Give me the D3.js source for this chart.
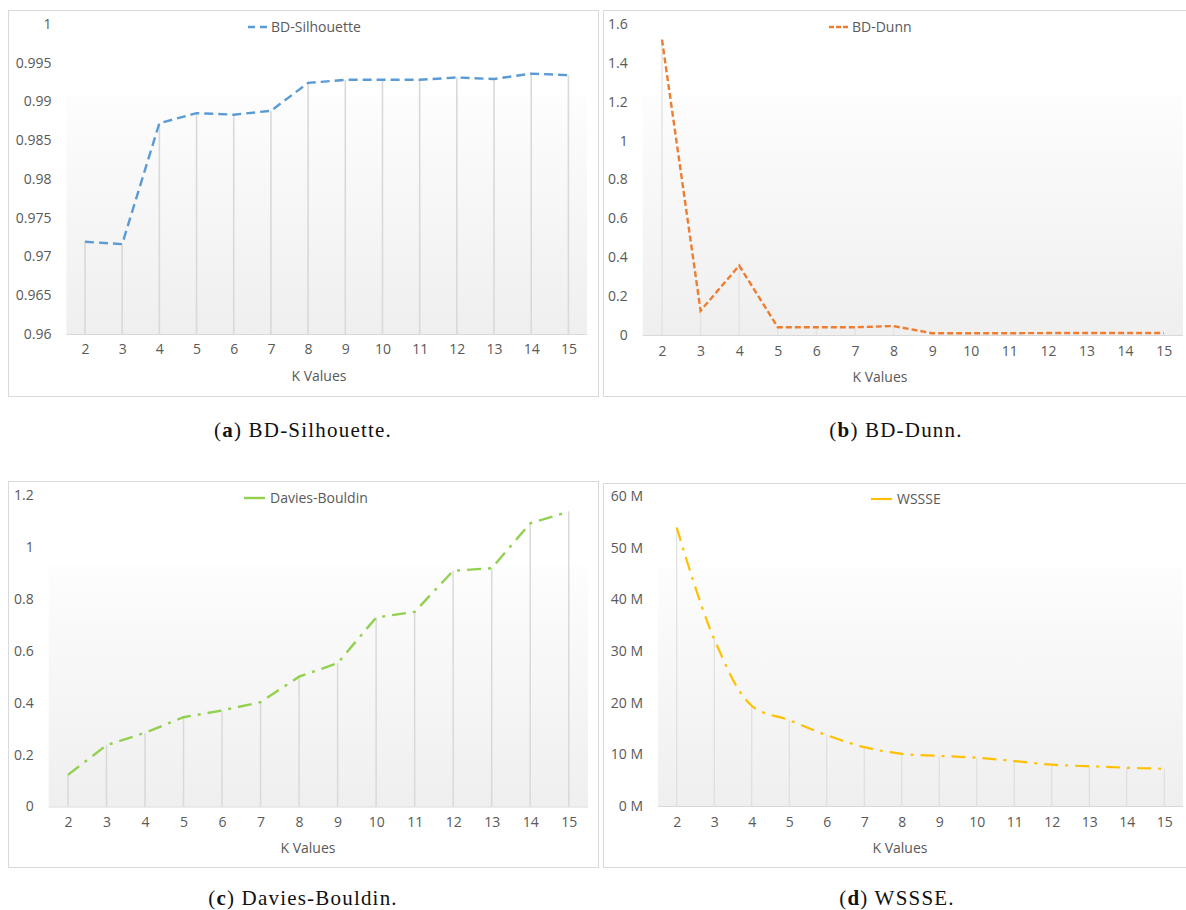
<!DOCTYPE html>
<html>
<head>
<meta charset="utf-8">
<script src="https://cdn.jsdelivr.net/npm/d3@7"></script>
<style>
  html, body { margin: 0; padding: 0; background: #fff; }
  svg { display: block; }
</style>
</head>
<body>
<svg id="chart" width="1186" height="910"></svg>
<script>
// ---- data ----
const kValues = [2, 3, 4, 5, 6, 7, 8, 9, 10, 11, 12, 13, 14, 15];

const silhouette = [0.9719, 0.9716, 0.9872, 0.9885, 0.9883, 0.9888, 0.9924, 0.9928, 0.9928, 0.9928, 0.9931, 0.9929, 0.9936, 0.9934];
const dunn = [1.52, 0.125, 0.357, 0.04, 0.04, 0.04, 0.046, 0.009, 0.009, 0.009, 0.01, 0.01, 0.01, 0.01];
const daviesBouldin = [0.122, 0.236, 0.284, 0.344, 0.370, 0.402, 0.500, 0.552, 0.728, 0.750, 0.908, 0.918, 1.091, 1.136];
const wssse = [53.9e6, 32.3e6, 19.4e6, 16.6e6, 13.7e6, 11.4e6, 10.1e6, 9.7e6, 9.35e6, 8.7e6, 8.0e6, 7.7e6, 7.4e6, 7.2e6];

const silhouetteTicks = [0.96, 0.965, 0.97, 0.975, 0.98, 0.985, 0.99, 0.995, 1];
const dunnTicks = [0, 0.2, 0.4, 0.6, 0.8, 1, 1.2, 1.4, 1.6];
const dbTicks = [0, 0.2, 0.4, 0.6, 0.8, 1, 1.2];
const wssseTicks = [0, 10e6, 20e6, 30e6, 40e6, 50e6, 60e6];

const seriesNames = ["BD-Silhouette", "BD-Dunn", "Davies-Bouldin", "WSSSE"];
const captionLetters = ["a", "b", "c", "d"];
const captionTexts = [" BD-Silhouette.", " BD-Dunn.", " Davies-Bouldin.", " WSSSE."];
const axisTitle = "K Values";

// ---- layout / styles ----
const panels = [
  { values: silhouette, ticks: silhouetteTicks, fmt: d => String(+d.toFixed(3)),
    box: [8, 10, 590, 386], xr: [66.4, 587], yr: [334, 24], dom: [0.96, 1],
    color: "#5b9bd5", dash: "9,5", width: 2.4, curve: d3.curveLinear,
    legendX: 248, legendY: 27, titleX: 319, tickY: 354, titleY: 376,
    drop: "#d9d9d9", dropW: 1.6, capX: 303, capY: 437 },
  { values: dunn, ticks: dunnTicks, fmt: d => String(+d.toFixed(1)),
    box: [603, 10, 600, 386], xr: [642.7, 1183], yr: [335, 24], dom: [0, 1.6],
    color: "#ed7d31", dash: "6,3", width: 2.4, curve: d3.curveLinear,
    legendX: 829, legendY: 27, titleX: 880, tickY: 356, titleY: 377,
    drop: "#e3e3e3", dropW: 1.4, capX: 896, capY: 437 },
  { values: daviesBouldin, ticks: dbTicks, fmt: d => String(+d.toFixed(1)),
    box: [8, 481, 590, 386], xr: [48.7, 588], yr: [806.5, 495], dom: [0, 1.2],
    color: "#92d050", dash: "14,7,3,7", width: 2.4, curve: d3.curveLinear,
    legendX: 244, legendY: 498, titleX: 308, tickY: 827, titleY: 848,
    drop: "#d9d9d9", dropW: 1.5, capX: 303, capY: 905 },
  { values: wssse, ticks: wssseTicks, fmt: d => (d / 1e6) + " M",
    box: [603, 483, 600, 384], xr: [658, 1183], yr: [806, 496], dom: [0, 60e6],
    color: "#ffc000", dash: "14,7,3,7", width: 2.2, curve: d3.curveCatmullRom.alpha(0.5),
    legendX: 871, legendY: 499, titleX: 900, tickY: 827, titleY: 848,
    drop: "#dcdcdc", dropW: 1.1, capX: 897, capY: 905 }
];

const svg = d3.select("#chart");
const defs = svg.append("defs");
const grad = defs.append("linearGradient").attr("id", "plotGrad")
  .attr("x1", 0).attr("y1", 0).attr("x2", 0).attr("y2", 1);
grad.append("stop").attr("offset", "0%").attr("stop-color", "#fdfdfd");
grad.append("stop").attr("offset", "100%").attr("stop-color", "#efefef");

const tickFont = "'Open Sans', 'Liberation Sans', sans-serif";

panels.forEach((p, i) => {
  const g = svg.append("g");
  // panel border
  g.append("rect")
    .attr("x", p.box[0] + 0.5).attr("y", p.box[1] + 0.5)
    .attr("width", p.box[2]).attr("height", p.box[3])
    .attr("fill", "#fff").attr("stroke", "#d9d9d9").attr("stroke-width", 1);

  const x = d3.scalePoint().domain(kValues).range(p.xr).padding(0.5);
  const y = d3.scaleLinear().domain(p.dom).range(p.yr);

  // plot-area gradient
  const gTop = p.yr[1] + 0.23 * (p.yr[0] - p.yr[1]);
  g.append("rect")
    .attr("x", p.xr[0]).attr("y", gTop)
    .attr("width", p.xr[1] - p.xr[0]).attr("height", p.yr[0] - gTop)
    .attr("fill", "url(#plotGrad)");

  // y axis labels
  const yAxis = d3.axisLeft(y).tickValues(p.ticks).tickFormat(p.fmt).tickSize(0).tickPadding(0);
  const ya = g.append("g").attr("transform", `translate(${p.xr[0] - 15},0)`).call(yAxis);
  ya.select(".domain").remove();
  ya.selectAll("text").attr("font-family", tickFont).attr("font-size", 14).attr("fill", "#595959");

  // x axis labels
  const xAxis = d3.axisBottom(x).tickSize(0).tickPadding(0);
  const xa = g.append("g").attr("transform", `translate(0,${p.tickY - 10})`).call(xAxis);
  xa.select(".domain").remove();
  xa.selectAll("text").attr("font-family", tickFont).attr("font-size", 14).attr("fill", "#595959");

  // drop lines
  g.append("g").selectAll("line").data(kValues).join("line")
    .attr("x1", k => x(k)).attr("x2", k => x(k))
    .attr("y1", (k, j) => y(p.values[j])).attr("y2", y(p.dom[0]))
    .attr("stroke", p.drop).attr("stroke-width", p.dropW);

  // baseline
  g.append("line")
    .attr("x1", p.xr[0]).attr("x2", p.xr[1])
    .attr("y1", y(p.dom[0]) + 0.5).attr("y2", y(p.dom[0]) + 0.5)
    .attr("stroke", "#d9d9d9").attr("stroke-width", 1);

  // series line
  const line = d3.line().x((d, j) => x(kValues[j])).y(d => y(d)).curve(p.curve);
  g.append("path").datum(p.values)
    .attr("d", line).attr("fill", "none")
    .attr("stroke", p.color).attr("stroke-width", p.width)
    .attr("stroke-dasharray", p.dash);

  // legend
  const lg = g.append("g").attr("transform", `translate(${p.legendX},${p.legendY})`);
  lg.append("line").attr("x1", 0).attr("x2", 21).attr("y1", 0).attr("y2", 0)
    .attr("stroke", p.color).attr("stroke-width", p.width)
    .attr("stroke-dasharray", i === 0 ? "7,5" : (i === 1 ? "5,2" : null));
  lg.append("text").attr("x", i <= 1 ? 23 : 26).attr("y", 0).attr("dy", "0.35em")
    .attr("font-family", tickFont).attr("font-size", 14).attr("fill", "#595959")
    .text(seriesNames[i]);

  // axis title
  g.append("text").attr("x", p.titleX).attr("y", p.titleY).attr("dy", "0.35em")
    .attr("text-anchor", "middle")
    .attr("font-family", tickFont).attr("font-size", 14).attr("fill", "#595959")
    .text(axisTitle);

  // caption
  const cap = svg.append("text").attr("x", p.capX).attr("y", p.capY)
    .attr("text-anchor", "middle")
    .attr("font-family", "'Liberation Serif', 'DejaVu Serif', serif").attr("font-size", 21)
    .attr("letter-spacing", 1.2).attr("fill", "#111");
  cap.append("tspan").text("(");
  cap.append("tspan").attr("font-weight", "bold").text(captionLetters[i]);
  cap.append("tspan").text(")" + captionTexts[i]);
});
</script>
</body>
</html>
